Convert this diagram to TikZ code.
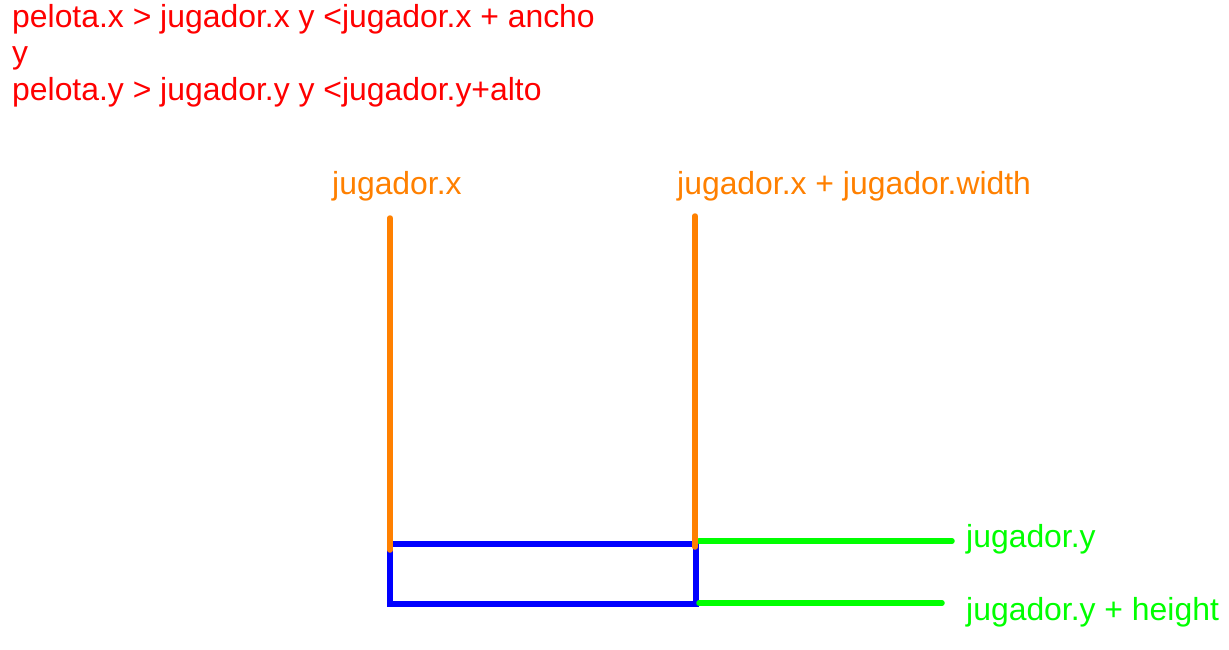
\documentclass[tikz,border=0pt]{standalone}
\usepackage{fontspec}
\setmainfont{Liberation Sans}
\definecolor{paintorange}{RGB}{255,128,0}
\definecolor{paintgreen}{RGB}{0,255,0}
\tikzset{
  rule/.style={red, font=\fontsize{31.9}{36}\selectfont, anchor=base west, inner sep=0pt},
  xlabel/.style={paintorange, font=\fontsize{31.9}{36}\selectfont, anchor=base west, inner sep=0pt},
  ylabel/.style={paintgreen, font=\fontsize{31.9}{36}\selectfont, anchor=base west, inner sep=0pt},
  xbound/.style={paintorange, line width=5.5pt, line cap=round},
  ybound/.style={paintgreen, line width=5.5pt, line cap=round},
  player/.style={blue, line width=6pt}
}
\begin{document}
\begin{tikzpicture}[x=1pt, y=-1pt]
    \useasboundingbox (0, 0) rectangle (1229, 649);

    % Condition text
    \node[rule] (cond1) at (12, 27) {pelota.x > jugador.x y <jugador.x + ancho};
    \node[rule] (cond2) at (12, 63) {y};
    \node[rule] (cond3) at (12, 100) {pelota.y > jugador.y y <jugador.y+alto};

    % Player box
    \coordinate (tl) at (390, 544);
    \coordinate (tr) at (696, 544);
    \coordinate (bl) at (390, 604);
    \coordinate (br) at (696, 604);
    \draw[player] (tl) -- (tr) -- (br) -- (bl) -- cycle;

    % Vertical bounds
    \node[xlabel] (leftlbl) at (332, 194) {jugador.x};
    \node[xlabel] (rightlbl) at (677, 194) {jugador.x + jugador.width};
    \coordinate (lefttop) at (390, 218);
    \coordinate (righttop) at (695, 216);

    % Horizontal bounds
    \node[ylabel] (toplbl) at (966, 547) {jugador.y};
    \node[ylabel] (botlbl) at (966, 620) {jugador.y + height};
    \coordinate (topend) at (952, 541);
    \coordinate (botend) at (942, 603);
    \draw[ybound] (699, 541) -- (topend);
    \draw[ybound] (699, 603) -- (botend);

    \draw[xbound] (lefttop) -- (390, 550);
    \draw[xbound] (righttop) -- (695, 547);
\end{tikzpicture}
\end{document}
